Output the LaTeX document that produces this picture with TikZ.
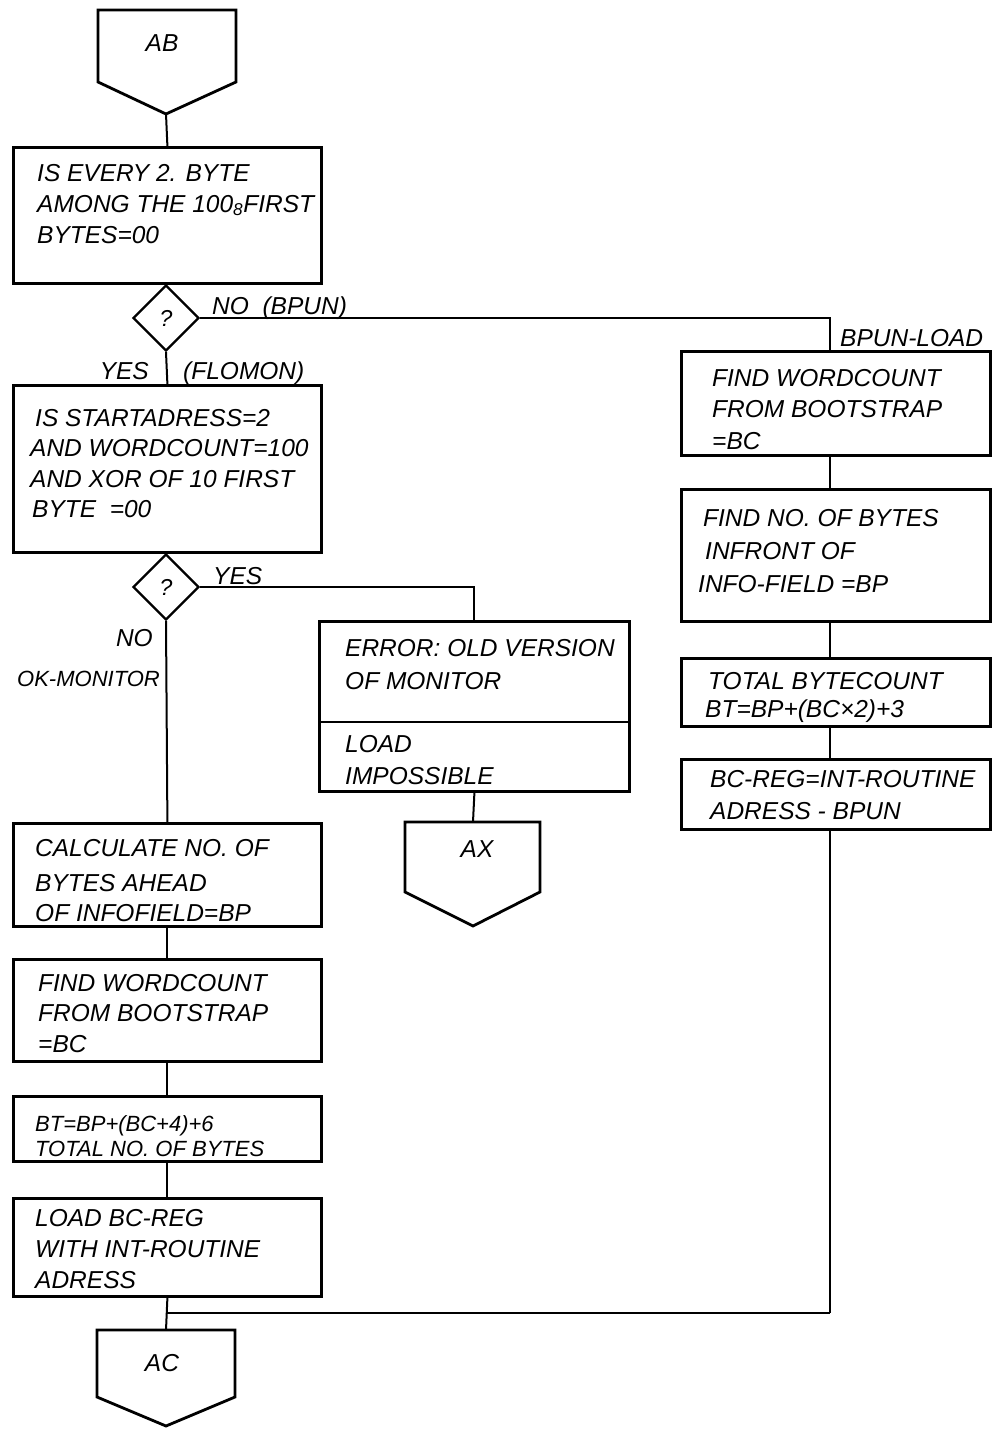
\documentclass[tikz,border=0pt]{standalone}
\usepackage{fontspec}
\setmainfont{Liberation Sans}
\usetikzlibrary{shapes.geometric}
\begin{document}
\begin{tikzpicture}[x=1pt,y=-1pt,
 box/.style={draw, line width=2.8pt, rectangle, inner sep=0pt, anchor=north west},
 cond/.style={draw, line width=2.4pt, diamond, minimum width=66pt, minimum height=66pt, inner sep=0pt, font=\fontsize{23}{25}\selectfont\itshape},
 conn/.style={line width=2pt},
 pent/.style={line width=2.8pt, line join=miter},
 txt/.style={anchor=base west, inner sep=0pt, font=\fontsize{24.5}{27}\selectfont\itshape},
 stxt/.style={txt, font=\fontsize{22}{25}\selectfont\itshape}]

\useasboundingbox (0,0) rectangle (993,1429);

% connector pentagons
\draw[pent] (98,10) -- (236,10) -- (236,82) -- (166,114) -- (98,82) -- cycle;
\coordinate (abtip) at (166,114);
\node[txt, anchor=base] (abl) at (162,52) {AB};

\draw[pent] (405,822) -- (540,822) -- (540,892) -- (473,926) -- (405,892) -- cycle;
\coordinate (axtop) at (473,822);
\node[txt, anchor=base] (axl) at (477,857) {AX};

\draw[pent] (97,1330) -- (235,1330) -- (235,1397) -- (166,1426) -- (97,1397) -- cycle;
\coordinate (actop) at (166,1330);
\node[txt, anchor=base] (acl) at (162,1371) {AC};

% left column
\node[box, minimum width=308pt, minimum height=136pt] (b1) at (12,146) {};
\node[txt] (b1a) at (37,181) {IS EVERY 2. BYTE};
\node[txt] (b1b) at (37,212) {AMONG THE 100\textsubscript{8}FIRST};
\node[txt] (b1c) at (37,243) {BYTES=00};

\node[cond] (d1) at (166,318) {?};
\node[txt] (l1) at (212,314) {NO\ \ (BPUN)};
\node[txt, anchor=base east] (l2) at (149,379) {YES};
\node[txt] (l3) at (183,379) {(FLOMON)};

\node[box, minimum width=308pt, minimum height=167pt] (b2) at (12,384) {};
\node[txt] (b2a) at (35,426) {IS STARTADRESS=2};
\node[txt] (b2b) at (30,456) {AND WORDCOUNT=100};
\node[txt] (b2c) at (30,487) {AND XOR OF 10 FIRST};
\node[txt] (b2d) at (32,517) {BYTE\ \ =00};

\node[cond] (d2) at (166,587) {?};
\node[txt] (l4) at (213,584) {YES};
\node[txt, anchor=base east] (l5) at (153,646) {NO};
\node[stxt, anchor=base east] (l6) at (160,686) {OK-MONITOR};

\node[box, minimum width=310pt, minimum height=170pt] (err) at (318,620) {};
\coordinate (errdivl) at (318,722);
\coordinate (errdivr) at (628,722);
\node[txt] (e1) at (345,656) {ERROR: OLD VERSION};
\node[txt] (e2) at (345,689) {OF MONITOR};
\node[txt] (e3) at (345,752) {LOAD};
\node[txt] (e4) at (345,784) {IMPOSSIBLE};

\node[box, minimum width=308pt, minimum height=103pt] (c1) at (12,822) {};
\node[txt] (c1a) at (35,856) {CALCULATE NO. OF};
\node[txt] (c1b) at (35,891) {BYTES AHEAD};
\node[txt] (c1c) at (35,921) {OF INFOFIELD=BP};

\node[box, minimum width=308pt, minimum height=102pt] (c2) at (12,958) {};
\node[txt] (c2a) at (38,991) {FIND WORDCOUNT};
\node[txt] (c2b) at (38,1021) {FROM BOOTSTRAP};
\node[txt] (c2c) at (38,1052) {=BC};

\node[box, minimum width=308pt, minimum height=65pt] (c3) at (12,1095) {};
\node[stxt] (c3a) at (35,1131) {BT=BP+(BC+4)+6};
\node[stxt] (c3b) at (35,1156) {TOTAL NO. OF BYTES};

\node[box, minimum width=308pt, minimum height=98pt] (c4) at (12,1197) {};
\node[txt] (c4a) at (35,1226) {LOAD BC-REG};
\node[txt] (c4b) at (35,1257) {WITH INT-ROUTINE};
\node[txt] (c4c) at (35,1288) {ADRESS};

% right column
\node[txt] (l7) at (840,346) {BPUN-LOAD};

\node[box, minimum width=309pt, minimum height=104pt] (r1) at (680,350) {};
\node[txt] (r1a) at (712,386) {FIND WORDCOUNT};
\node[txt] (r1b) at (712,417) {FROM BOOTSTRAP};
\node[txt] (r1c) at (712,449) {=BC};

\node[box, minimum width=309pt, minimum height=132pt] (r2) at (680,488) {};
\node[txt] (r2a) at (703,526) {FIND NO. OF BYTES};
\node[txt] (r2b) at (705,559) {INFRONT OF};
\node[txt] (r2c) at (698,592) {INFO-FIELD =BP};

\node[box, minimum width=309pt, minimum height=68pt] (r3) at (680,657) {};
\node[txt] (r3a) at (708,689) {TOTAL BYTECOUNT};
\node[txt] (r3b) at (705,717) {BT=BP+(BC×2)+3};

\node[box, minimum width=309pt, minimum height=70pt] (r4) at (680,758) {};
\node[txt] (r4a) at (710,787) {BC-REG=INT-ROUTINE};
\node[txt] (r4b) at (710,819) {ADRESS - BPUN};

% connectors
\coordinate (rx) at (830,318);
\coordinate (mx) at (830,1313);
\coordinate (ml) at (166,1313);

\draw[line width=2.4pt] (errdivl) -- (errdivr);
\draw[conn] (abtip) -- (b1.north);
\draw[conn] (b1.south) -- (d1.north);
\draw[conn] (d1.east) -- (rx) -- (rx |- r1.north);
\draw[conn] (d1.south) -- (b2.north);
\draw[conn] (b2.south) -- (d2.north);
\draw[conn] (d2.east) -| (err.north);
\draw[conn] (d2.south) -- (c1.north);
\draw[conn] (err.south) -- (axtop);
\draw[conn] (c1.south) -- (c2.north);
\draw[conn] (c2.south) -- (c3.north);
\draw[conn] (c3.south) -- (c4.north);
\draw[conn] (c4.south) -- (actop);
\draw[conn] (rx |- r1.south) -- (rx |- r2.north);
\draw[conn] (rx |- r2.south) -- (rx |- r3.north);
\draw[conn] (rx |- r3.south) -- (rx |- r4.north);
\draw[conn] (rx |- r4.south) -- (mx);
\draw[line width=2.8pt] (mx) -- (ml);
\end{tikzpicture}
\end{document}
